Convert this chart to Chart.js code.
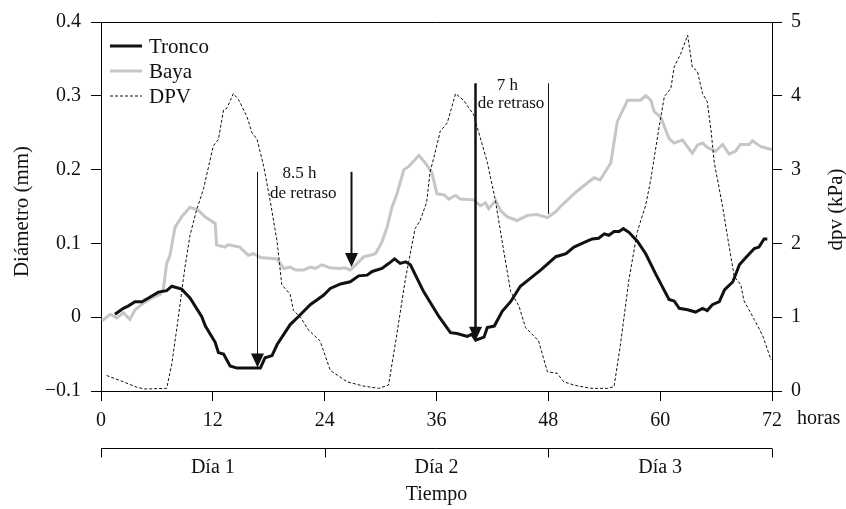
<!DOCTYPE html>
<html lang="es">
<head>
<meta charset="UTF-8">
<title>Diámetro de tronco y baya frente a DPV</title>
<script src="https://cdn.jsdelivr.net/npm/chart.js"></script>
<style>
  body { margin: 0; background: #fff; }
  #caja { width: 846px; height: 509px; position: relative; }
</style>
</head>
<body>
<div id="caja"><canvas id="grafico"></canvas></div>
<script>
// datos (horas desde el inicio)
const troncoHoras = [1.5, 2.4, 2.9, 3.65, 4.4, 5.1, 6.15, 7.05, 7.6, 8.65, 9.55, 10.8, 11.2, 12.25, 12.6, 13.15, 13.85, 14.6, 17.1, 17.6, 18.35, 18.9, 20.3, 21.2, 22.45, 23.9, 24.6, 25.7, 26.75, 27.65, 28.55, 29.1, 30.15, 30.9, 31.5, 32.1, 32.7, 33.2, 34.6, 36.25, 37.5, 38.2, 39.3, 39.8, 40.2, 41.1, 41.45, 42.2, 43.05, 43.95, 45, 46.1, 47.2, 47.9, 48.8, 49.9, 50.75, 51.8, 52.7, 53.4, 54, 54.5, 55.05, 55.6, 56.05, 56.65, 57.55, 58.45, 59.5, 60.95, 61.5, 62.05, 62.95, 63.8, 64.55, 65.05, 65.6, 66.35, 66.9, 67.8, 68.5, 69.2, 70.1, 70.6, 71.15, 71.5];
const troncoValores = [0.004, 0.012, 0.015, 0.021, 0.021, 0.026, 0.034, 0.036, 0.042, 0.038, 0.026, 0.001, -0.012, -0.034, -0.048, -0.05, -0.066, -0.069, -0.069, -0.055, -0.052, -0.037, -0.01, 0.001, 0.017, 0.030, 0.039, 0.045, 0.048, 0.056, 0.057, 0.062, 0.066, 0.073, 0.079, 0.073, 0.075, 0.071, 0.035, 0.001, -0.021, -0.022, -0.026, -0.023, -0.031, -0.027, -0.014, -0.012, 0.008, 0.021, 0.042, 0.053, 0.064, 0.072, 0.082, 0.086, 0.095, 0.101, 0.106, 0.107, 0.113, 0.111, 0.116, 0.116, 0.12, 0.115, 0.103, 0.086, 0.059, 0.024, 0.022, 0.012, 0.010, 0.007, 0.012, 0.009, 0.017, 0.021, 0.037, 0.048, 0.071, 0.081, 0.093, 0.095, 0.106, 0.106];

const bayaHoras = [0.1, 1, 1.7, 2.4, 3.1, 3.65, 4.55, 5.45, 6.35, 6.7, 7.05, 7.4, 7.95, 8.65, 9.55, 10.45, 11.15, 12.25, 12.4, 13.3, 13.65, 14.9, 15.8, 16.35, 17.1, 18.9, 19.6, 20.3, 20.85, 21.75, 22.45, 23, 23.7, 24.6, 25.5, 26.2, 26.75, 27.5, 28.2, 28.9, 29.45, 30.15, 30.7, 31.2, 31.75, 32.5, 33, 34.1, 34.8, 35.5, 36.05, 36.8, 37.3, 38.05, 38.55, 40, 40.7, 41.25, 41.6, 42.35, 42.9, 43.6, 44.65, 45.75, 46.8, 47.9, 48.8, 49.3, 51.1, 52.9, 53.55, 54.7, 55.4, 56.5, 57.9, 58.45, 59, 59.35, 60.1, 60.95, 61.5, 62.4, 63.45, 64, 64.55, 65.05, 65.95, 66.7, 67.4, 68.1, 68.6, 69.55, 69.9, 70.8, 72];
const bayaValores = [-0.005, 0.004, -0.001, 0.006, -0.003, 0.010, 0.019, 0.026, 0.031, 0.039, 0.073, 0.084, 0.122, 0.136, 0.149, 0.145, 0.136, 0.127, 0.098, 0.095, 0.098, 0.095, 0.084, 0.086, 0.081, 0.079, 0.066, 0.068, 0.064, 0.064, 0.068, 0.066, 0.071, 0.067, 0.066, 0.067, 0.064, 0.073, 0.082, 0.084, 0.086, 0.102, 0.122, 0.148, 0.167, 0.200, 0.204, 0.219, 0.209, 0.196, 0.167, 0.166, 0.160, 0.165, 0.160, 0.159, 0.151, 0.155, 0.147, 0.158, 0.144, 0.136, 0.131, 0.138, 0.139, 0.135, 0.143, 0.150, 0.171, 0.189, 0.186, 0.209, 0.265, 0.294, 0.294, 0.300, 0.294, 0.279, 0.270, 0.242, 0.236, 0.240, 0.222, 0.233, 0.236, 0.230, 0.225, 0.234, 0.221, 0.225, 0.234, 0.234, 0.239, 0.231, 0.227];

const dpvHoras = [0.6, 2.4, 3.85, 4.7, 7.05, 7.6, 8.3, 9.0, 9.55, 10.25, 11, 12.05, 12.6, 13.15, 13.5, 14.2, 14.75, 15.65, 16.2, 16.75, 17.45, 18.15, 18.9, 19.4, 20.3, 20.65, 21.4, 22.3, 23.5, 24.6, 26.4, 28.15, 29.8, 30.85, 31.75, 32.65, 33.7, 34.25, 34.95, 35.3, 35.85, 36.4, 37.15, 38.05, 38.9, 40, 40.7, 41.45, 42.35, 43.05, 43.95, 44.85, 45.55, 46.95, 47.9, 48.95, 49.65, 50.75, 52.55, 54.35, 55.05, 55.75, 56.65, 57.55, 58.45, 59, 59.9, 60.45, 61.15, 61.5, 62.2, 62.95, 63.45, 64, 64.55, 65.05, 65.45, 65.8, 66.7, 67.2, 67.95, 68.65, 69, 70.1, 71, 71.9];
const dpvValores = [0.21, 0.125, 0.05, 0.027, 0.036, 0.37, 1.0, 1.67, 2.11, 2.45, 2.74, 3.32, 3.41, 3.81, 3.83, 4.03, 3.95, 3.72, 3.50, 3.41, 3.05, 2.58, 2.02, 1.44, 1.31, 1.09, 1.0, 0.82, 0.68, 0.28, 0.125, 0.067, 0.036, 0.08, 0.77, 1.51, 2.20, 2.31, 2.56, 2.96, 3.23, 3.52, 3.63, 4.03, 3.94, 3.74, 3.43, 3.10, 2.56, 2.02, 1.35, 1.15, 0.86, 0.68, 0.26, 0.24, 0.125, 0.08, 0.036, 0.036, 0.058, 0.64, 1.51, 2.16, 2.52, 2.87, 3.59, 3.99, 4.10, 4.39, 4.57, 4.82, 4.39, 4.33, 4.03, 3.92, 3.54, 3.10, 2.50, 2.11, 1.55, 1.44, 1.22, 0.97, 0.75, 0.42];

const horasTicks = [0, 12, 24, 36, 48, 60, 72];
const dias = ['Día 1', 'Día 2', 'Día 3'];
const limitesDias = [0, 24, 48, 72];

// flechas de retraso: hora, diametro inicio, diametro final, grosor, punta
const flechasHora = [16.75, 26.85, 40.1, 48.0];
const flechasDesde = [0.197, 0.197, 0.317, 0.317];
const flechasHasta = [-0.068, 0.068, -0.032, 0.140];
const flechasGrosor = [1, 2, 2.5, 1];
const flechasPunta = [true, true, true, false];

const notasTexto = ['8.5 h', 'de retraso', '7 h', 'de retraso'];
const notasHora = [21.3, 21.7, 43.6, 44.0];
const notasValor = [0.195, 0.168, 0.314, 0.290];

const fuente = '"Liberation Serif", "DejaVu Serif", serif';

function puntos(xs, ys) {
  const n = Math.min(xs.length, ys.length);
  const out = [];
  for (let i = 0; i < n; i++) out.push({ x: xs[i], y: ys[i] });
  return out;
}

const series = [
  { label: 'Tronco', data: puntos(troncoHoras, troncoValores), borderColor: '#111', borderWidth: 3, yAxisID: 'yL', borderDash: [] },
  { label: 'DPV', data: puntos(dpvHoras, dpvValores), borderColor: '#111', borderWidth: 1, yAxisID: 'yR', borderDash: [3, 2] },
  { label: 'Baya', data: puntos(bayaHoras, bayaValores), borderColor: '#c6c6c6', borderWidth: 3, yAxisID: 'yL', borderDash: [] }
];
const ordenLeyenda = ['Tronco', 'Baya', 'DPV'];

const extras = {
  id: 'extras',
  afterDatasetsDraw(chart) {
    const ctx = chart.ctx;
    const x = chart.scales.x, yL = chart.scales.yL;
    const area = chart.chartArea;
    ctx.save();
    // marco superior
    ctx.strokeStyle = '#000';
    ctx.lineWidth = 1;
    ctx.beginPath();
    ctx.moveTo(area.left, area.top + 0.5);
    ctx.lineTo(area.right, area.top + 0.5);
    ctx.stroke();

    // flechas
    for (let i = 0; i < flechasHora.length; i++) {
      const px = Math.round(x.getPixelForValue(flechasHora[i])) + 0.5;
      const y0 = yL.getPixelForValue(flechasDesde[i]);
      const y1 = yL.getPixelForValue(flechasHasta[i]);
      ctx.fillStyle = '#111';
      ctx.strokeStyle = '#111';
      ctx.lineWidth = flechasGrosor[i];
      ctx.beginPath();
      ctx.moveTo(px, y0);
      ctx.lineTo(px, flechasPunta[i] ? y1 - 10 : y1);
      ctx.stroke();
      if (flechasPunta[i]) {
        ctx.beginPath();
        ctx.moveTo(px - 6.5, y1 - 14);
        ctx.lineTo(px + 6.5, y1 - 14);
        ctx.lineTo(px, y1);
        ctx.closePath();
        ctx.fill();
      }
    }

    // notas
    ctx.fillStyle = '#111';
    ctx.font = '17px ' + fuente;
    ctx.textAlign = 'center';
    ctx.textBaseline = 'middle';
    for (let i = 0; i < notasTexto.length; i++) {
      ctx.fillText(notasTexto[i], x.getPixelForValue(notasHora[i]), yL.getPixelForValue(notasValor[i]));
    }

    // leyenda
    ctx.font = '21px ' + fuente;
    ctx.textAlign = 'left';
    ordenLeyenda.forEach((nombre, i) => {
      const ds = series.find(s => s.label === nombre);
      const ly = area.top + 24 + i * 25;
      ctx.strokeStyle = ds.borderColor;
      ctx.lineWidth = ds.borderWidth;
      ctx.setLineDash(ds.borderDash);
      ctx.beginPath();
      ctx.moveTo(area.left + 9, ly);
      ctx.lineTo(area.left + 41, ly);
      ctx.stroke();
      ctx.setLineDash([]);
      ctx.fillStyle = '#111';
      ctx.fillText(nombre, area.left + 48, ly + 1);
    });
    ctx.restore();
  },
  afterDraw(chart) {
    const ctx = chart.ctx;
    const x = chart.scales.x;
    const area = chart.chartArea;
    ctx.save();
    ctx.fillStyle = '#111';
    ctx.strokeStyle = '#000';
    ctx.lineWidth = 1;
    ctx.font = '20px ' + fuente;
    ctx.textBaseline = 'middle';

    // "horas" junto al eje
    ctx.textAlign = 'left';
    ctx.fillText('horas', area.right + 25, area.bottom + 28);

    // corchete de dias
    const yb = area.bottom + 57.5;
    ctx.beginPath();
    ctx.moveTo(x.getPixelForValue(limitesDias[0]), yb);
    ctx.lineTo(x.getPixelForValue(limitesDias[limitesDias.length - 1]), yb);
    limitesDias.forEach(h => {
      const px = Math.round(x.getPixelForValue(h)) + 0.5;
      ctx.moveTo(px, yb);
      ctx.lineTo(px, yb + 9);
    });
    ctx.stroke();
    ctx.textAlign = 'center';
    dias.forEach((d, i) => {
      const mid = (limitesDias[i] + limitesDias[i + 1]) / 2;
      ctx.fillText(d, x.getPixelForValue(mid), area.bottom + 77);
    });
    ctx.fillText('Tiempo', x.getPixelForValue(36), area.bottom + 104);

    // titulos de los ejes verticales
    ctx.font = '21px ' + fuente;
    const cy = (area.top + area.bottom) / 2;
    ctx.save();
    ctx.translate(22, cy + 5);
    ctx.rotate(-Math.PI / 2);
    ctx.fillText('Diámetro (mm)', 0, 0);
    ctx.restore();
    ctx.save();
    ctx.translate(area.right + 64, cy + 3);
    ctx.rotate(-Math.PI / 2);
    ctx.fillText('dpv (kPa)', 0, 0);
    ctx.restore();
    ctx.restore();
  }
};

const ejeComun = {
  grid: { drawOnChartArea: false, drawTicks: true, tickLength: 10, color: '#000', tickColor: '#000', tickWidth: 1 },
  border: { display: true, color: '#000', width: 1 },
  ticks: { color: '#111', font: { family: fuente, size: 20 } }
};

new Chart(document.getElementById('grafico'), {
  type: 'line',
  data: {
    datasets: series.map(s => ({
      label: s.label,
      data: s.data,
      borderColor: s.borderColor,
      borderWidth: s.borderWidth,
      borderDash: s.borderDash,
      yAxisID: s.yAxisID,
      pointRadius: 0,
      tension: 0,
      fill: false
    }))
  },
  options: {
    responsive: true,
    maintainAspectRatio: false,
    animation: false,
    devicePixelRatio: 1,
    layout: { padding: { top: 18, left: 0, right: 0, bottom: 0 } },
    plugins: { legend: { display: false }, tooltip: { enabled: false } },
    scales: {
      x: {
        type: 'linear', min: 0, max: 72,
        afterBuildTicks: s => { s.ticks = horasTicks.map(v => ({ value: v })); },
        afterFit: s => { s.height = 118; },
        grid: ejeComun.grid, border: ejeComun.border,
        ticks: { ...ejeComun.ticks, padding: 8, maxRotation: 0 }
      },
      yL: {
        type: 'linear', position: 'left', min: -0.1, max: 0.4,
        afterFit: s => { s.width = 101; },
        grid: ejeComun.grid, border: ejeComun.border,
        ticks: {
          ...ejeComun.ticks, stepSize: 0.1, padding: 10,
          callback: v => {
            const r = Math.round(v * 10) / 10;
            if (r === 0) return '0';
            return r < 0 ? '\u2212' + Math.abs(r).toFixed(1) : r.toFixed(1);
          }
        }
      },
      yR: {
        type: 'linear', position: 'right', min: 0, max: 5,
        afterFit: s => { s.width = 74; },
        grid: ejeComun.grid, border: ejeComun.border,
        ticks: { ...ejeComun.ticks, stepSize: 1, padding: 9 }
      }
    }
  },
  plugins: [extras]
});
</script>
</body>
</html>
